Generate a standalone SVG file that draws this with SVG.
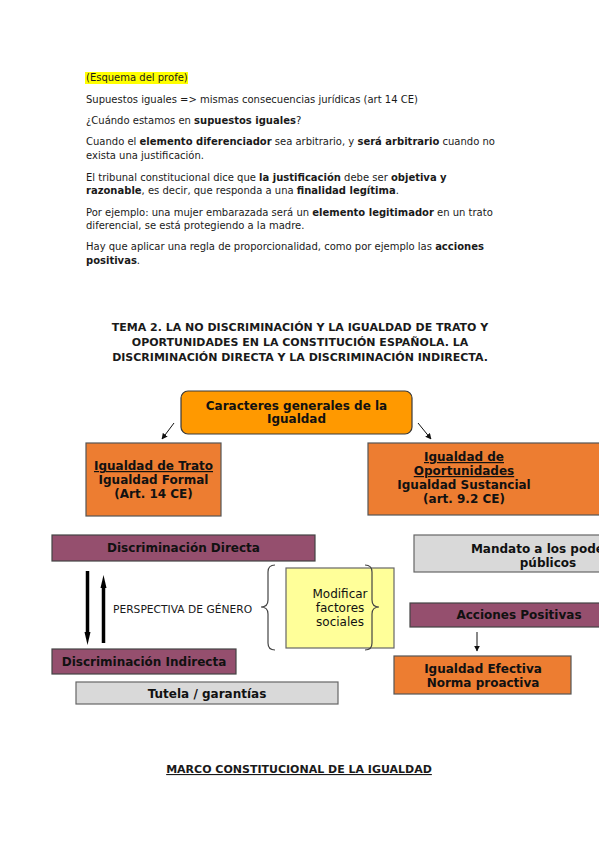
<svg xmlns="http://www.w3.org/2000/svg" width="599" height="848" viewBox="0 0 599 848">
<defs>
<style>
.b{font-family:"DejaVu Sans",sans-serif;font-size:10px;fill:#1a1a1a}
.h{font-family:"DejaVu Sans",sans-serif;font-size:11px;font-weight:bold;fill:#1a1a1a}
.t{font-family:"DejaVu Sans",sans-serif;font-size:12px;font-weight:bold;fill:#111;text-anchor:middle}
.r{font-family:"DejaVu Sans",sans-serif;font-size:12px;fill:#111;text-anchor:middle}
.bo{font-weight:bold}
.u{text-decoration:underline}
.or{fill:#ED7D31;stroke:#555;stroke-width:1.2}
.pu{fill:#954F6E;stroke:#444;stroke-width:1.2}
.gr{fill:#D9D9D9;stroke:#666;stroke-width:1.2}
.ye{fill:#FFFF99;stroke:#666;stroke-width:1.2}
.ln{stroke:#111;stroke-width:1;fill:none}
.th{stroke:#000;stroke-width:3.5;fill:none}
.br{stroke:#444;stroke-width:1.2;fill:none}
</style>
<marker id="ah" viewBox="0 0 10 10" refX="9" refY="5" markerWidth="6" markerHeight="6" orient="auto" markerUnits="userSpaceOnUse">
<path d="M0,0 L10,5 L0,10 z" fill="#111"/>
</marker>
</defs>
<rect width="599" height="848" fill="#fff"/>

<g id="text-top">
<rect x="85" y="72" width="103" height="12" fill="#FFFF00"/>
<text class="b" x="86" y="81">(Esquema del profe)</text>
<text class="b" x="86" y="103">Supuestos iguales =&gt; mismas consecuencias jurídicas (art 14 CE)</text>
<text class="b" x="86" y="124">¿Cuándo estamos en <tspan class="bo">supuestos iguales</tspan>?</text>
<text class="b" x="86" y="145">Cuando el <tspan class="bo">elemento diferenciador</tspan> sea arbitrario, y <tspan class="bo">será arbitrario</tspan> cuando no</text>
<text class="b" x="86" y="159">exista una justificación.</text>
<text class="b" x="86" y="181"> El tribunal constitucional dice que <tspan class="bo">la justificación</tspan> debe ser <tspan class="bo">objetiva y</tspan></text>
<text class="b" x="86" y="194"><tspan class="bo">razonable</tspan>, es decir, que responda a una <tspan class="bo">finalidad legítima</tspan>.</text>
<text class="b" x="86" y="216">Por ejemplo: una mujer embarazada será un <tspan class="bo">elemento legitimador</tspan> en un trato</text>
<text class="b" x="86" y="229">diferencial, se está protegiendo a la madre.</text>
<text class="b" x="86" y="250">Hay que aplicar una regla de proporcionalidad, como por ejemplo las <tspan class="bo">acciones</tspan></text>
<text class="b" x="86" y="264"><tspan class="bo">positivas</tspan>.</text>
</g>

<g id="heading">
<text class="h" x="300" y="331" text-anchor="middle">TEMA 2. LA NO DISCRIMINACIÓN Y LA IGUALDAD DE TRATO Y</text>
<text class="h" x="300" y="346" text-anchor="middle">OPORTUNIDADES EN LA CONSTITUCIÓN ESPAÑOLA. LA</text>
<text class="h" x="300" y="361" text-anchor="middle">DISCRIMINACIÓN DIRECTA Y LA DISCRIMINACIÓN INDIRECTA.</text>
</g>

<g id="connectors">
<line class="ln" x1="174" y1="423" x2="162" y2="439" marker-end="url(#ah)"/>
<line class="ln" x1="418" y1="423" x2="431" y2="439" marker-end="url(#ah)"/>
<line class="th" x1="87.5" y1="571" x2="87.5" y2="634"/>
<path d="M84.5,632 L90.5,632 L87.5,645 z" fill="#000"/>
<line class="th" x1="103.5" y1="586" x2="103.5" y2="643"/>
<path d="M100.5,588 L106.5,588 L103.5,575 z" fill="#000"/>
<line class="ln" x1="477" y1="632" x2="477" y2="651" marker-end="url(#ah)"/>
</g>

<g id="node-caracteres">
<rect x="181" y="391" width="231" height="43" rx="7" fill="#FF9900" stroke="#3a3a3a" stroke-width="1.2"/>
<text class="t" x="296.5" y="410">Caracteres generales de la</text>
<text class="t" x="296.5" y="423">Igualdad</text>
</g>

<g id="node-trato">
<rect class="or" x="86" y="443" width="135" height="73"/>
<text class="t" x="153.5" y="470"><tspan class="u">Igualdad de Trato</tspan></text>
<text class="t" x="153.5" y="484">Igualdad Formal</text>
<text class="t" x="153.5" y="498">(Art. 14 CE)</text>
</g>

<g id="node-oportunidades">
<rect class="or" x="368" y="443" width="260" height="72"/>
<text class="t" x="464" y="461"><tspan class="u">Igualdad de</tspan></text>
<text class="t" x="464" y="475"><tspan class="u">Oportunidades</tspan></text>
<text class="t" x="464" y="489">Igualdad Sustancial</text>
<text class="t" x="464" y="503">(art. 9.2 CE)</text>
</g>

<g id="node-directa">
<rect class="pu" x="52" y="535" width="263" height="26"/>
<text class="t" x="183.5" y="552">Discriminación Directa</text>
</g>

<g id="node-mandato">
<rect class="gr" x="414" y="535" width="260" height="37"/>
<text class="t" x="548" y="553">Mandato a los poderes</text>
<text class="t" x="548" y="567">públicos</text>
</g>

<g id="label-perspectiva">
<text class="b" x="113" y="613" style="font-size:10.7px">PERSPECTIVA DE GÉNERO</text>
</g>

<g id="node-modificar">
<rect class="ye" x="286" y="568" width="108" height="80"/>
<text class="r" x="340" y="598">Modificar</text>
<text class="r" x="340" y="612">factores</text>
<text class="r" x="340" y="626">sociales</text>
<path class="br" d="M275,565 Q268,565 268,572 L268,600 Q268,607 261,607 Q268,607 268,614 L268,643 Q268,650 275,650"/>
<path class="br" d="M365,565 Q372,565 372,572 L372,600 Q372,607 379,607 Q372,607 372,614 L372,643 Q372,650 365,650"/>
</g>

<g id="node-acciones">
<rect class="pu" x="410" y="603" width="260" height="24"/>
<text class="t" x="519" y="619">Acciones Positivas</text>
</g>

<g id="node-efectiva">
<rect class="or" x="394" y="656" width="177" height="38"/>
<text class="t" x="483" y="673">Igualdad Efectiva</text>
<text class="t" x="483" y="687">Norma proactiva</text>
</g>

<g id="node-indirecta">
<rect class="pu" x="52" y="649" width="184" height="25"/>
<text class="t" x="144" y="666">Discriminación Indirecta</text>
</g>

<g id="node-tutela">
<rect class="gr" x="76" y="682" width="262" height="22"/>
<text class="t" x="207" y="698">Tutela / garantías</text>
</g>

<g id="footer">
<text class="h" x="299" y="773" text-anchor="middle" text-decoration="underline">MARCO CONSTITUCIONAL DE LA IGUALDAD</text>
</g>
</svg>
